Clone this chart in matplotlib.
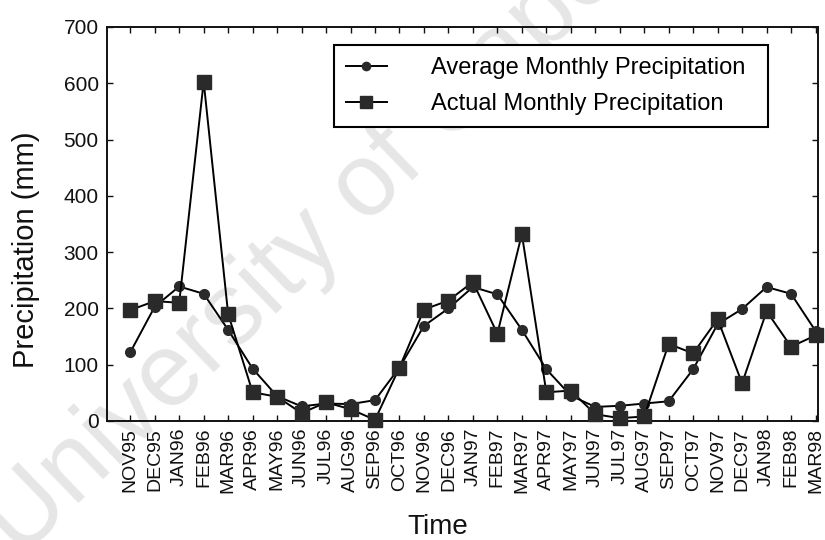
import matplotlib
matplotlib.use("Agg")
import matplotlib.pyplot as plt

plt.rcParams['font.family'] = ['Liberation Sans', 'DejaVu Sans']

months = ["NOV95", "DEC95", "JAN96", "FEB96", "MAR96", "APR96", "MAY96", "JUN96",
          "JUL96", "AUG96", "SEP96", "OCT96", "NOV96", "DEC96", "JAN97", "FEB97",
          "MAR97", "APR97", "MAY97", "JUN97", "JUL97", "AUG97", "SEP97", "OCT97",
          "NOV97", "DEC97", "JAN98", "FEB98", "MAR98"]

average_precip = [122, 203, 239, 226, 162, 93, 44, 26, 31, 30, 37, 95, 169, 200,
                  238, 225, 162, 92, 45, 25, 27, 31, 35, 92, 172, 199, 238, 226, 160]

actual_precip = [197, 213, 210, 603, 190, 51, 43, 14, 33, 21, 2, 95, 198, 214,
                 247, 155, 332, 51, 54, 12, 5, 8, 137, 120, 181, 67, 195, 132, 152]

y_ticks = [0, 100, 200, 300, 400, 500, 600, 700]

fig = plt.figure(figsize=(8.25, 5.4), dpi=100)

# faint diagonal watermark behind the chart
fig.text(0.025, -0.035, 'University of Cape Town', fontsize=74, color='#e6e6e6',
         rotation=44, rotation_mode='anchor', ha='left', va='baseline',
         zorder=-5)

ax = fig.add_axes([0.1297, 0.2204, 0.8618, 0.7296])
ax.patch.set_alpha(0)

x = list(range(len(months)))
ax.plot(x, average_precip, color='black', lw=1.4, marker='o', markersize=7,
        markerfacecolor='#2a2a2a', markeredgecolor='#2a2a2a',
        label='Average Monthly Precipitation', zorder=3, clip_on=False)
ax.plot(x, actual_precip, color='black', lw=1.4, marker='s', markersize=10,
        markerfacecolor='#2a2a2a', markeredgecolor='#2a2a2a',
        label='Actual Monthly Precipitation', zorder=3, clip_on=False)

ax.set_xlim(-0.95, 28.1)
ax.set_ylim(0, 700)
ax.set_xticks(x)
ax.set_xticklabels(months, rotation=90, fontsize=14)
ax.set_yticks(y_ticks)
ax.set_yticklabels([str(v) for v in y_ticks], fontsize=15)
ax.tick_params(axis='both', direction='in', length=4, width=1.0,
               top=True, right=True, pad=5, colors='#111111')
ax.tick_params(axis='y', pad=6)
for s in ax.spines.values():
    s.set_linewidth(1.4)
    s.set_color('#111111')

ax.set_ylabel('Precipitation (mm)', fontsize=21, color='#111111')
ax.yaxis.set_label_coords(-0.094, 0.434)
ax.set_xlabel('Time', fontsize=20, color='#111111')
ax.xaxis.set_label_coords(0.465, -0.235)

leg = ax.legend(loc='upper left', bbox_to_anchor=(0.319, 0.954, 0.611, 0.0),
                mode='expand', borderaxespad=0, fontsize=17,
                handlelength=1.75, handletextpad=1.85, labelspacing=0.6,
                borderpad=0.5, fancybox=False, framealpha=1)
leg.get_frame().set_edgecolor('black')
leg.get_frame().set_linewidth(1.5)
for h in leg.legend_handles:
    h.set_markersize(h.get_markersize() * 0.85)

fig.savefig('out.png', dpi=100)
